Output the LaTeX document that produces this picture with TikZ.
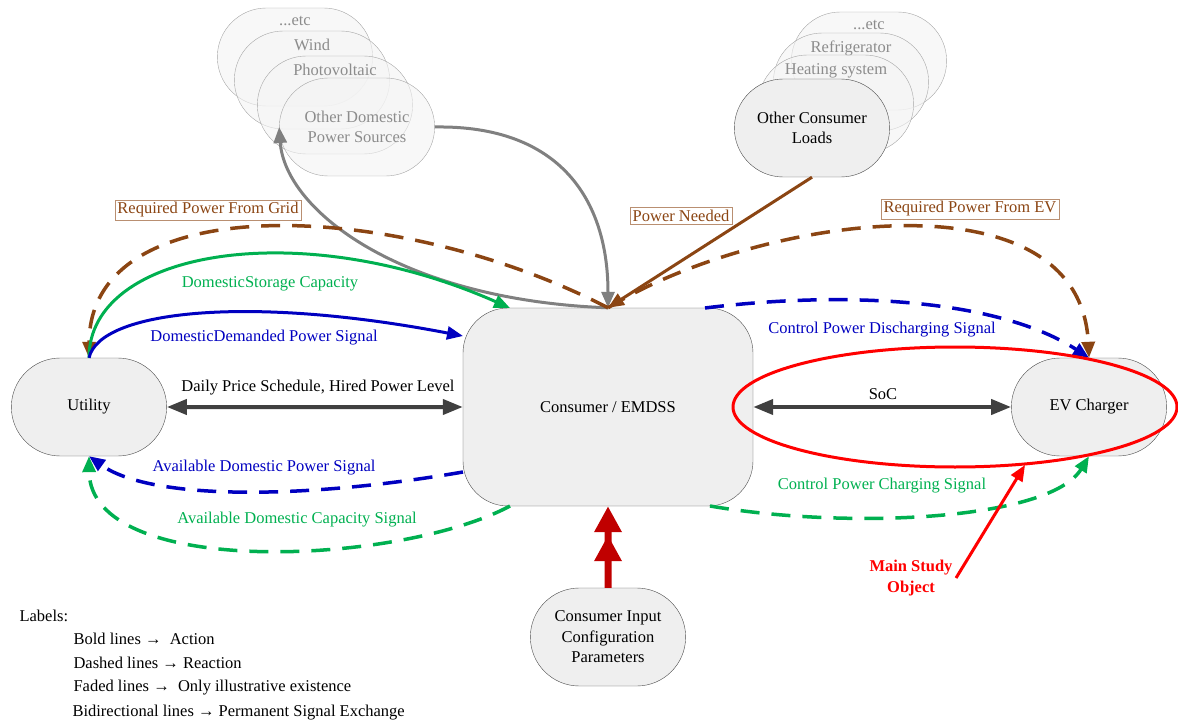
\documentclass[tikz,border=0pt]{standalone}
\usepackage{fontspec}
\setmainfont{Liberation Serif}
\usepackage{xcolor}
\usepackage{tikz}
\usetikzlibrary{arrows.meta,shapes.misc}
\definecolor{brn}{RGB}{139,69,19}
\definecolor{grn}{RGB}{0,176,80}
\definecolor{blu}{RGB}{0,0,192}
\definecolor{darkg}{RGB}{64,64,64}
\definecolor{redc}{RGB}{192,0,0}
\definecolor{boxg}{RGB}{239,239,239}

\begin{document}
\begin{tikzpicture}[x=1pt,y=-1pt,
		font=\fontsize{16.5}{20.5}\selectfont,
		pill/.style={draw=black!70, fill=boxg, rounded rectangle, minimum width=162pt, minimum height=98pt, align=center},
		ghost/.style={draw=black!35, fill=boxg!70, fill opacity=0.6, text opacity=1, rounded rectangle, minimum width=162pt, minimum height=98pt, align=center},
		ghosttext/.style={text=black!45},
		act/.style={line width=3pt, -{Triangle[length=16pt,width=13pt]}},
		react/.style={act, line width=3.5pt, dash pattern=on 19pt off 12pt},
		both/.style={line width=4pt, draw=darkg, {Triangle[length=20pt,width=15pt]}-{Triangle[length=20pt,width=15pt]}},
		tag/.style={draw=brn!60, fill=white, text=brn, inner sep=2.5pt}]
		\useasboundingbox (0,0) rectangle (1178,722);
		% faded sources and loads
		\node[ghost, label={[ghosttext, anchor=north, yshift=-5pt]north:...etc}] (etcL) at (295,57) {};
		\node[ghost, label={[ghosttext, anchor=north, yshift=-5pt]north:Wind}] (windL) at (312,80) {};
		\node[ghost, label={[ghosttext, anchor=north, yshift=-5pt]north:Photovoltaic}] (pvL) at (335,105) {};
		\node[ghost, ghosttext] (dps) at (357,127) {Other Domestic\\Power Sources};
		\node[ghost, label={[ghosttext, anchor=north, yshift=-5pt]north:...etc}] (etcR) at (869,61) {};
		\node[ghost, label={[ghosttext, anchor=north, yshift=-5pt]north:Refrigerator}] (refR) at (851,82) {};
		\node[ghost, label={[ghosttext, anchor=north, yshift=-5pt]north:Heating system}] (heatR) at (836,104) {};
		% main blocks
		\node[pill] (ocl) at (812,128) {Other Consumer\\Loads};
		\node[pill] (util) at (89,407) {Utility};
		\node[draw=black!70, fill=boxg, rounded corners=45pt, minimum width=290pt, minimum height=198pt] (cons) at (608,407) {Consumer / EMDSS};
		\node[pill] (ev) at (1089,407) {EV Charger};
		\node[pill] (cicp) at (608,637) {Consumer Input\\Configuration\\Parameters};
		\coordinate (gin) at (510,308);
		\coordinate (bin) at (463,336);
		\coordinate (bout) at (705,308);
		\coordinate (adp) at (463,472);
		\coordinate (adc) at (510,506);
		\coordinate (cpc) at (710,506);
		\coordinate (ring) at (1025,465);
		% links
		\draw[both] (util) -- (cons);
		\draw[both] (cons) -- (ev);
		\draw[line width=7pt, draw=redc, -{Triangle[length=26pt,width=26pt,sep=3pt]Triangle[length=26pt,width=26pt]}] (cicp) -- (cons);
		\draw[act, draw=gray] (dps.east) .. controls (560,125) and (608,200) .. (cons.north);
		\draw[act, draw=gray] (cons.north) .. controls (400,300) and (285,210) .. (dps.west);
		\draw[act, draw=brn] (ocl.south) -- (cons.north);
		\draw[react, draw=brn] (cons.north) .. controls (400,200) and (90,185) .. (util.north);
		\draw[react, draw=brn] (cons.north) .. controls (760,215) and (1080,170) .. (ev.north);
		\draw[act, draw=grn] (util.north) .. controls (89,250) and (300,215) .. (gin);
		\draw[act, draw=blu] (util.north) .. controls (100,310) and (250,295) .. (bin);
		\draw[react, draw=blu] (bout) .. controls (850,290) and (1000,300) .. (ev.north);
		\draw[react, draw=blu] (adp) .. controls (300,500) and (150,500) .. (util.south);
		\draw[react, draw=grn] (adc) .. controls (400,565) and (90,580) .. (util.south);
		\draw[react, draw=grn] (cpc) .. controls (850,530) and (1050,520) .. (ev.south);
		% study object
		\draw[draw=red, line width=3pt] (955,407) ellipse [x radius=222pt, y radius=60pt];
		\node[text=red, font=\fontsize{16.5}{20.5}\selectfont\bfseries, align=center] (msl) at (911,578) {Main Study\\Object};
		\draw[draw=red, line width=3pt, -{Triangle[length=16pt,width=13pt]}] (msl.east) -- (ring);
		% link texts
		\node[text=grn] (lstor) at (270,284) {DomesticStorage Capacity};
		\node[text=blu] (ldem) at (264,338) {DomesticDemanded Power Signal};
		\node (lprice) at (318,388) {Daily Price Schedule, Hired Power Level};
		\node[text=blu] (ladp) at (264,468) {Available Domestic Power Signal};
		\node[text=grn] (ladc) at (297,520) {Available Domestic Capacity Signal};
		\node[text=blu] (lcpd) at (882,330) {Control Power Discharging Signal};
		\node (lsoc) at (883,394) {SoC};
		\node[text=grn] (lcpc) at (882,486) {Control Power Charging Signal};
		\node[tag] (lgrid) at (208,210) {Required Power From Grid};
		\node[tag] (lneed) at (681,216) {Power Needed};
		\node[tag] (lev) at (970,209) {Required Power From EV};
		% legend
		\node[anchor=west] (leg) at (16,616) {Labels:};
		\node[anchor=west] (legA) at (70,639) {Bold lines →\ \ Action};
		\node[anchor=west] (legB) at (70,663) {Dashed lines → Reaction};
		\node[anchor=west] (legC) at (70,688) {Faded lines →\ \ Only illustrative existence};
		\node[anchor=west] (legD) at (69,713) {Bidirectional lines → Permanent Signal Exchange};
		\end{tikzpicture}
\end{document}
